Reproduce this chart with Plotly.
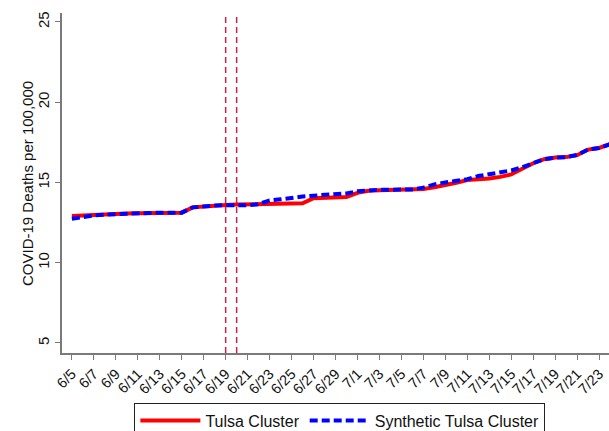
import plotly.graph_objects as go
import datetime as dt

start = dt.date(2020, 6, 5)
n_days = 50
dates = [start + dt.timedelta(days=i) for i in range(n_days)]
day_idx = list(range(n_days))
date_labels = [f"{d.month}/{d.day}" for d in dates]

tulsa = [12.91, 12.95, 12.99, 13.02, 13.05, 13.07, 13.08, 13.10, 13.11, 13.12,
         13.12, 13.45, 13.52, 13.57, 13.60, 13.63, 13.65, 13.67, 13.68, 13.69,
         13.70, 13.70, 14.02, 14.04, 14.06, 14.10, 14.35, 14.48, 14.52, 14.55,
         14.55, 14.56, 14.60, 14.70, 14.82, 14.98, 15.15, 15.18, 15.25, 15.35,
         15.50, 15.85, 16.20, 16.45, 16.55, 16.58, 16.70, 17.05, 17.15, 17.40]

synthetic = [12.74, 12.85, 12.95, 13.00, 13.04, 13.06, 13.08, 13.10, 13.11, 13.12,
             13.12, 13.45, 13.52, 13.56, 13.58, 13.57, 13.58, 13.65, 13.88, 13.95,
             14.05, 14.12, 14.18, 14.22, 14.26, 14.32, 14.45, 14.52, 14.55, 14.55,
             14.55, 14.57, 14.68, 14.88, 15.00, 15.12, 15.20, 15.40, 15.50, 15.60,
             15.75, 15.95, 16.22, 16.45, 16.55, 16.58, 16.72, 17.05, 17.15, 17.38]

event_days = [14, 15]  # 6/19 and 6/20
tick_idx = day_idx[::2][:25]
tick_text = [date_labels[i] for i in tick_idx]
y_ticks = [5, 10, 15, 20, 25]
y_title = "COVID-19 Deaths per 100,000"

font = "Liberation Sans, Arial, sans-serif"
axis_col = "#7a7a7a"

fig = go.Figure()
fig.add_trace(go.Scatter(x=day_idx, y=tulsa, mode="lines", name="Tulsa Cluster",
                         line=dict(color="#ff0000", width=4)))
fig.add_trace(go.Scatter(x=day_idx, y=synthetic, mode="lines", name="Synthetic Tulsa Cluster",
                         line=dict(color="#0000ff", width=4, dash="8px,4px")))

for d in event_days:
    fig.add_shape(type="line", xref="x", yref="paper", x0=d, x1=d, y0=0, y1=1,
                  line=dict(color="#c8204e", width=1.5, dash="6px,4px"))

fig.add_annotation(text=y_title, xref="paper", yref="paper", x=-0.064, y=0.5,
                   xanchor="center", yanchor="middle", textangle=-90, showarrow=False,
                   font=dict(size=15, family=font, color="#111111"))

fig.update_layout(
    width=609, height=431,
    margin=dict(l=62, r=0, t=13, b=78, autoexpand=False),
    paper_bgcolor="white", plot_bgcolor="white",
    font=dict(family=font, color="#111111", size=14),
    showlegend=True,
    legend=dict(orientation="h", x=0.508, xanchor="center", y=-0.146, yanchor="top",
                bordercolor="#222222", borderwidth=1, font=dict(size=16),
                itemwidth=60, traceorder="normal"),
    xaxis=dict(range=[-0.9, 48.9], tickmode="array", tickvals=tick_idx, ticktext=tick_text,
               tickangle=-45, ticks="outside", ticklen=5, tickcolor=axis_col,
               showline=True, linecolor=axis_col, linewidth=1.5, showgrid=False,
               zeroline=False, tickfont=dict(size=14.5), automargin=False),
    yaxis=dict(range=[4.375, 25.56], tickmode="array", tickvals=y_ticks,
               tickangle=-90, ticks="outside", ticklen=5, tickcolor=axis_col,
               showline=True, linecolor=axis_col, linewidth=1.5, showgrid=False,
               zeroline=False, tickfont=dict(size=15), automargin=False),
)

fig.write_html("out.html", config={"displayModeBar": False},
               post_script="document.body.style.margin='0';document.body.style.overflow='hidden';")
